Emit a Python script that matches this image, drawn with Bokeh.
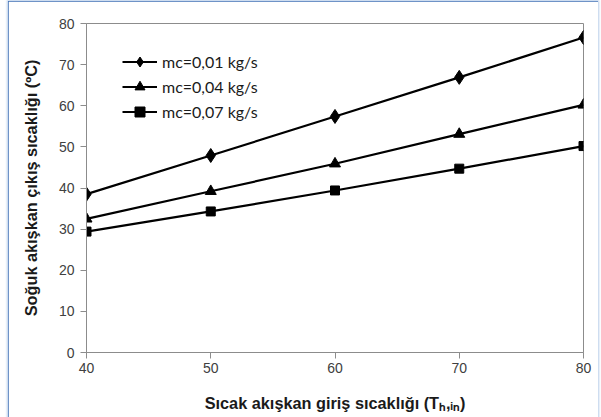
from bokeh.plotting import figure
from bokeh.models import Legend, LegendItem, Range1d, FixedTicker
from bokeh.embed import file_html
from bokeh.resources import INLINE

x_vals = [40, 50, 60, 70, 80]
s1 = [38.5, 47.9, 57.4, 66.9, 76.6]
s2 = [32.5, 39.2, 45.9, 53.1, 60.2]
s3 = [29.4, 34.3, 39.4, 44.7, 50.2]
labels = ["mc=0,01 kg/s", "mc=0,04 kg/s", "mc=0,07 kg/s"]
x_title = "Sıcak akışkan giriş sıcaklığı (Tₕ,ᵢₙ)"
y_title = "Soğuk akışkan çıkış sıcaklığı (ºC)"

# frame in window: left 86, right 583, top 23, bottom 352
OX, OY = 8, 1
FL, FR, FT, FB = 86, 583, 23, 352
W, H = 590, 419
p = figure(width=W, height=H, output_backend="svg", toolbar_location=None,
           x_range=Range1d(40, 80), y_range=Range1d(0, 80),
           min_border_left=FL - OX, min_border_right=OX + W - FR, min_border_top=FT - OY,
           min_border_bottom=OY + H - FB, margin=(OY, 0, 0, OX),
           styles={"outline": "2px solid #3f6fb5", "outline-offset": "-2px",
                   "box-shadow": "0 0 2px 1px #b8cde9"})
p.grid.visible = False
p.outline_line_color = "#8c8c8c"
p.outline_line_width = 1
p.background_fill_color = "white"
p.border_fill_color = "white"

for ax in (p.xaxis[0], p.yaxis[0]):
    ax.axis_line_color = "#8c8c8c"
    ax.major_tick_line_color = "#8c8c8c"
    ax.minor_tick_line_color = None
    ax.major_tick_in = 0
    ax.major_tick_out = 6
    ax.major_label_text_font = "Liberation Sans"
    ax.major_label_text_font_size = "14px"
    ax.major_label_text_color = "#404040"
    ax.axis_label_text_font = "Liberation Sans"
    ax.axis_label_text_font_style = "bold"
    ax.axis_label_text_font_size = "16.3px"
    ax.axis_label_text_color = "#1a1a1a"
p.xaxis.ticker = FixedTicker(ticks=[40, 50, 60, 70, 80])
p.yaxis.ticker = FixedTicker(ticks=[0, 10, 20, 30, 40, 50, 60, 70, 80])
p.xaxis.major_label_standoff = 4
p.yaxis.major_label_standoff = 6

p.yaxis.axis_label = y_title
p.yaxis.axis_label_standoff = 16
p.xaxis.axis_label = x_title
p.xaxis.axis_label_standoff = 18

r1 = p.line(x_vals, s1, line_color="black", line_width=2.2)
m1 = p.scatter(x_vals, s1, marker="diamond", size=14, color="black")
r2 = p.line(x_vals, s2, line_color="black", line_width=2.2)
m2 = p.scatter(x_vals, s2, marker="triangle", size=11, color="black")
r3 = p.line(x_vals, s3, line_color="black", line_width=2.2)
m3 = p.scatter(x_vals, s3, marker="square", size=9, color="black")

legend = Legend(items=[LegendItem(label=labels[0], renderers=[r1, m1]),
                       LegendItem(label=labels[1], renderers=[r2, m2]),
                       LegendItem(label=labels[2], renderers=[r3, m3])],
                location=(36, 228), padding=0, margin=0, spacing=0,
                glyph_width=35, glyph_height=25, label_height=25, label_standoff=5,
                border_line_color=None, background_fill_alpha=0,
                label_text_font="Lato", label_text_font_size="16px", label_text_color="#1a1a1a")
p.add_layout(legend, "center")

open("out.html", "w").write(file_html(p, INLINE))
